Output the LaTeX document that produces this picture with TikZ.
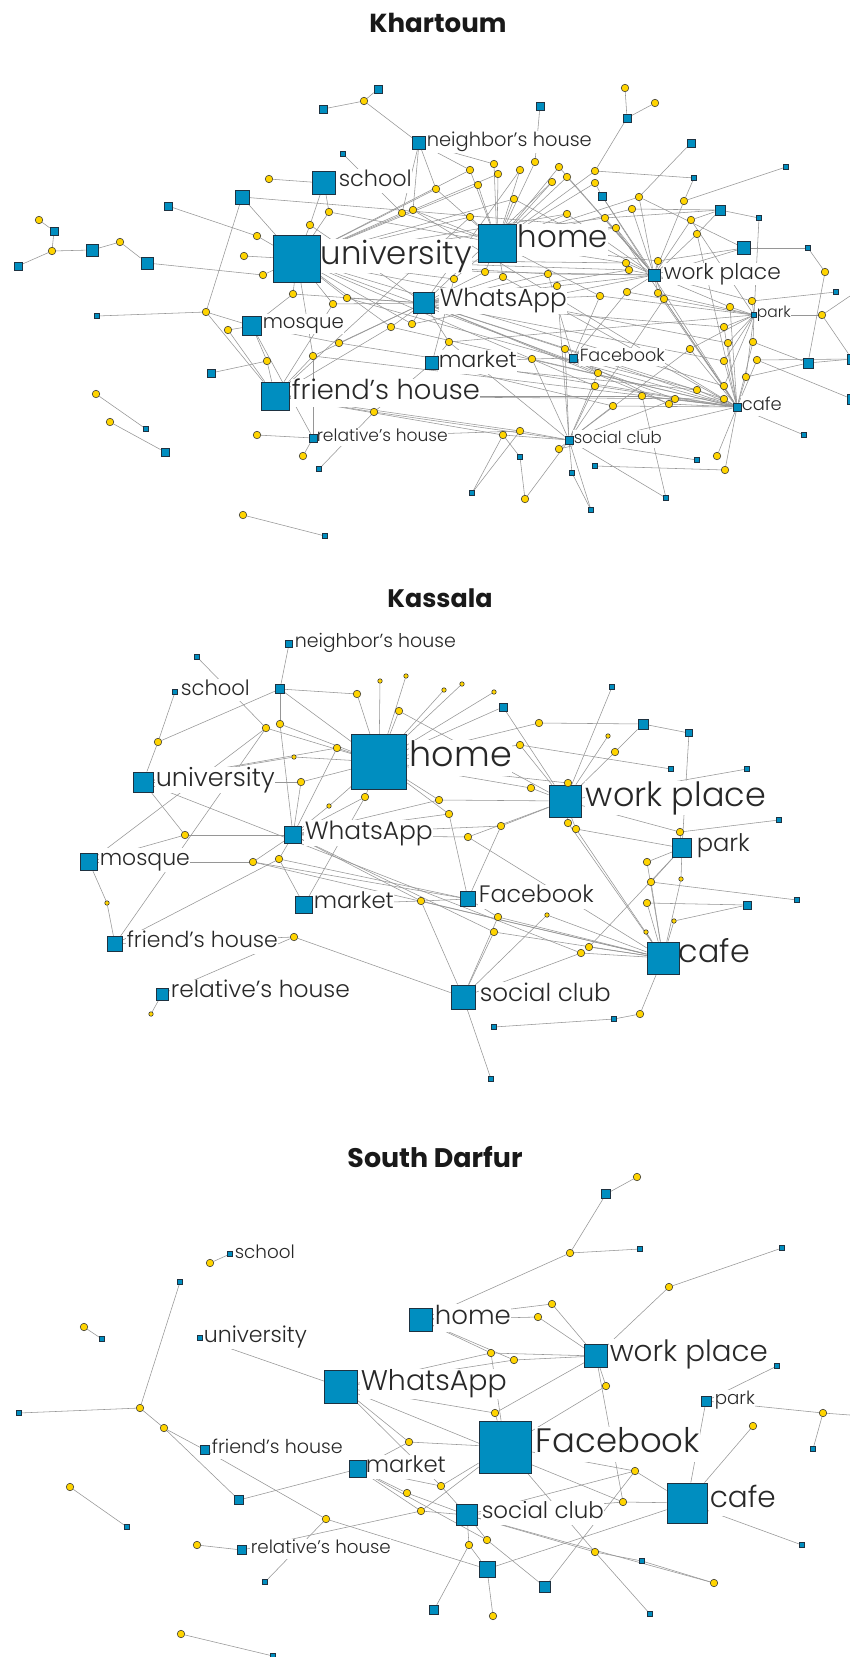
\documentclass[tikz,border=0pt]{standalone}
\usepackage{fontspec}
\setmainfont{Poppins}
\newfontfamily\labfont{Poppins Light}
\usepackage{graphicx}
\definecolor{plblue}{RGB}{0,142,192}
\definecolor{plborder}{RGB}{30,50,65}
\definecolor{pyel}{RGB}{255,212,0}
\definecolor{edgegray}{RGB}{150,150,150}
\definecolor{txtgray}{RGB}{40,40,40}
\pgfdeclarelayer{bglayer}
\pgfdeclarelayer{edgelayer}
\pgfdeclarelayer{lablayer}
\pgfsetlayers{bglayer,edgelayer,lablayer,main}
\tikzset{
 place/.style={rectangle, fill=plblue, draw=plborder, line width=0.8pt, inner sep=0pt},
 pers/.style={circle, fill=pyel, draw=black!80, line width=0.55pt, inner sep=0pt, minimum size=7.5pt},
 perss/.style={pers, minimum size=4.5pt},
 edge/.style={draw=edgegray, line width=0.55pt},
 lab/.style={fill=white, inner sep=0.6pt, text=txtgray, anchor=west, font=\labfont},
 ttl/.style={anchor=base, text=black!90, inner sep=0pt, font=\bfseries}
}
\newcommand{\mkplace}[3]{\node[place, minimum size=#3pt] (#1) at (#2) {};}
\newcommand{\mkpers}[2]{\node[pers] (#1) at (#2) {};}
\newcommand{\mkperss}[2]{\node[perss] (#1) at (#2) {};}
\newcommand{\mklabel}[4]{\node[lab] (#1) at (#2) {\resizebox{#3pt}{!}{#4\vphantom{hy}}};}
\begin{document}
\begin{tikzpicture}[x=1pt,y=-1pt]
\begin{pgfonlayer}{bglayer}
\fill[white] (0,0) rectangle (850,1657);
\end{pgfonlayer}
\useasboundingbox (0,0) rectangle (850,1657);

% ================= Titles =================
\node[ttl] (t1) at (438,32) {\resizebox{137pt}{!}{Khartoum}};
\node[ttl] (t2) at (440,607) {\resizebox{105pt}{!}{Kassala}};
\node[ttl] (t3) at (435,1167) {\resizebox{175pt}{!}{South Darfur}};

% ================= Khartoum =================
\mkplace{kU}{297,259}{47}
\mkplace{kH}{497,243}{38}
\mkplace{kSc}{324,183}{23}
\mkplace{kN}{419,143}{13}
\mkplace{kW}{424,303}{21}
\mkplace{kMo}{252,326}{19}
\mkplace{kFH}{275,396}{28}
\mkplace{kR}{313,438}{8}
\mkplace{kM}{432,363}{13}
\mkplace{kF}{573,358}{8}
\mkplace{kP}{654,275}{12}
\mkplace{kPk}{754,315}{4.5}
\mkplace{kC}{737,407}{8}
\mkplace{kS}{569,440}{8}
\mkplace{ks1}{323,109}{8}
\mkplace{ks2}{378,89}{8}
\mkplace{ks3}{343,154}{4.5}
\mkplace{ks4}{242,197}{14}
\mkplace{ks5}{168,206}{8}
\mkplace{ks6}{540,106}{8}
\mkplace{ks7}{627,118}{8}
\mkplace{ks8}{691,143}{8}
\mkplace{ks9}{694,178}{4.5}
\mkplace{ks10}{602,196}{8}
\mkplace{ks11}{786,167}{4.5}
\mkplace{ks12}{720,210}{10}
\mkplace{ks13}{744,248}{13}
\mkplace{ks14}{759,218}{4.5}
\mkplace{ks15}{808,248}{4.5}
\mkplace{ks16}{97,316}{4.5}
\mkplace{ks17}{211,373}{8}
\mkplace{ks18}{319,469}{4.5}
\mkplace{ks19}{146,429}{4.5}
\mkplace{ks20}{165,452}{8}
\mkplace{ks21}{325,536}{4.5}
\mkplace{ks22}{836,292}{4.5}
\mkplace{ks23}{808,363}{10}
\mkplace{ks24}{852,359}{10}
\mkplace{ks25}{852,399}{10}
\mkplace{ks26}{520,457}{4.5}
\mkplace{ks27}{572,473}{4.5}
\mkplace{ks28}{472,493}{4.5}
\mkplace{ks29}{591,510}{4.5}
\mkplace{ks30}{595,466}{4.5}
\mkplace{ks31}{697,460}{4.5}
\mkplace{ks32}{666,498}{4.5}
\mkplace{ks33}{804,435}{4.5}
\mkplace{kls1}{54,231}{8}
\mkplace{kls2}{18,266}{8}
\mkplace{kls3}{92,250}{12}
\mkplace{kls4}{147,263}{12}
\coordinate (kE1) at (850,296);
\mkpers{k1}{364,101}\mkpers{k2}{269,179}\mkpers{k3}{257,236}\mkpers{k4}{244,256}
\mkpers{k5}{263,275}\mkpers{k6}{329,212}\mkpers{k7}{310,225}\mkpers{k8}{402,213}
\mkpers{k9}{413,210}\mkpers{k10}{625,88}\mkpers{k11}{655,103}\mkpers{k12}{470,170}
\mkpers{k13}{494,164}\mkpers{k14}{498,174}\mkpers{k15}{520,170}\mkpers{k16}{535,162}
\mkpers{k17}{559,167}\mkpers{k18}{552,182}\mkpers{k19}{567,177}\mkpers{k20}{595,171}
\mkpers{k21}{595,183}\mkpers{k22}{478,185}\mkpers{k23}{514,199}\mkpers{k24}{470,217}
\mkpers{k25}{436,189}\mkpers{k26}{684,201}\mkpers{k27}{639,197}\mkpers{k28}{632,209}
\mkpers{k29}{605,218}\mkpers{k30}{616,228}\mkpers{k31}{567,214}\mkpers{k33}{691,220}
\mkpers{k34}{697,234}\mkpers{k35}{825,272}\mkpers{k36}{658,261}\mkpers{k37}{626,263}
\mkpers{k38}{629,270}\mkpers{k39}{485,272}\mkpers{k40}{503,277}\mkpers{k41}{454,279}
\mkpers{k42}{548,274}\mkpers{k43}{557,286}\mkpers{k44}{206,312}\mkpers{k45}{228,330}
\mkpers{k46}{293,294}\mkpers{k47}{333,304}\mkpers{k48}{347,298}\mkpers{k49}{391,327}
\mkpers{k50}{412,324}\mkpers{k51}{339,343}\mkpers{k52}{313,356}\mkpers{k53}{267,361}
\mkpers{k54}{374,412}\mkpers{k55}{257,435}\mkpers{k56}{303,456}\mkpers{k57}{96,394}
\mkpers{k58}{110,422}\mkpers{k59}{243,515}\mkpers{k60}{565,349}\mkpers{k61}{532,359}
\mkpers{k62}{449,342}\mkpers{k63}{600,296}\mkpers{k64}{627,292}\mkpers{k65}{658,293}
\mkpers{k66}{664,299}\mkpers{k67}{730,307}\mkpers{k68}{752,301}\mkpers{k69}{822,315}
\mkpers{k70}{724,327}\mkpers{k71}{728,343}\mkpers{k72}{753,342}\mkpers{k73}{724,361}
\mkpers{k74}{757,360}\mkpers{k75}{746,377}\mkpers{k76}{724,386}\mkpers{k77}{724,399}
\mkpers{k78}{690,349}\mkpers{k79}{697,390}\mkpers{k80}{675,399}\mkpers{k81}{669,404}
\mkpers{k82}{642,396}\mkpers{k83}{613,406}\mkpers{k84}{595,386}\mkpers{k85}{598,373}
\mkpers{k86}{503,435}\mkpers{k87}{520,431}\mkpers{k88}{559,449}\mkpers{k89}{525,499}
\mkpers{k90}{717,456}\mkpers{k91}{725,470}
\mkpers{kl1}{39,220}\mkpers{kl2}{52,251}\mkpers{kl3}{120,242}

\begin{pgfonlayer}{lablayer}
\mklabel{kUl}{320,256}{151}{university}
\mklabel{kHl}{517,240}{90}{home}
\mklabel{kScl}{338,181}{73}{school}
\mklabel{kNl}{426,142}{165}{neighbor’s house}
\mklabel{kWl}{439,301}{127}{WhatsApp}
\mklabel{kMol}{262,324}{81}{mosque}
\mklabel{kFHl}{291,393}{188}{friend’s house}
\mklabel{kRl}{316,437}{131}{relative’s house}
\mklabel{kMl}{438,362}{78}{market}
\mklabel{kFl}{579,357}{85}{Facebook}
\mklabel{kPl}{663,274}{117}{work place}
\mklabel{kPkl}{756,314}{34}{park}
\mklabel{kCl}{741,406}{40}{cafe}
\mklabel{kSl}{573,439}{88}{social club}
\end{pgfonlayer}

\begin{pgfonlayer}{edgelayer}
\foreach \a/\b in {k1/ks1,k1/ks2,k1/kN,ks3/k8,k2/kSc,ks4/kU,ks4/k44,ks4/k30,ks5/k3,
 k3/kU,k4/kU,k5/kU,k5/kls4,kl1/kls1,kls1/kl2,kl2/kls2,kl2/kls3,kls3/kl3,kl3/kls4,
 k6/kSc,k6/kU,k6/kH,k7/kSc,k7/kU,k7/kW,k8/kN,k8/kH,k8/kU,k9/kN,k9/kH,k9/kC,
 ks6/k16,k10/ks7,k11/ks7,ks7/k20,ks8/k27,
 k12/kH,k12/kN,k12/kU,k13/kH,k13/kN,k14/kH,k14/kU,k15/kH,k15/kW,k16/kH,
 k17/kH,k17/kP,k18/kH,k18/kW,k19/kH,k19/kP,k20/kH,k20/ks9,k21/kH,k21/ks10,
 k22/kH,k22/kU,k23/kH,k23/kU,k23/kP,k24/kH,k24/kU,k24/kFH,k25/kH,k25/kN,k25/kU,
 ks9/k26,ks11/k26,k26/kP,k27/kP,k27/ks13,k27/kH,ks10/kP,ks10/kC,
 k28/kP,k28/ks12,k28/kH,k29/kP,k29/kU,k29/ks12,k30/kP,k30/kH,k30/kC,
 k31/kH,k31/kP,k31/kU,k33/ks12,k33/kP,k33/kPk,k34/ks12,k34/kP,k34/kC,
 ks14/ks12,ks14/kPk,ks15/k35,ks15/ks13,k35/ks23,ks13/kP,
 k36/kP,k36/ks13,k36/kH,k37/kP,k37/kH,k37/kU,k38/kP,k38/kW,k38/kU,
 k39/kH,k39/kU,k39/kP,k39/kW,k40/kH,k40/kW,k40/kC,k41/kH,k41/kU,k41/kM,
 k42/kP,k42/kW,k42/kU,k42/kF,k43/kP,k43/kW,k43/kS,
 k44/ks16,k44/kFH,k44/kMo,k45/kFH,k45/kMo,k46/kU,k46/kMo,k46/kW,
 k47/kU,k47/kW,k47/kFH,k48/kU,k48/kW,k48/kC,k49/kW,k49/kU,k49/kC,k49/kFH,
 k50/kW,k50/kU,k50/kP,k51/kMo,k51/kW,k51/kC,k52/kFH,k52/kU,k52/kW,k52/kC,
 k53/ks17,k53/kFH,k53/kMo,k54/kFH,k54/kS,k54/ks18,k54/kM,
 k55/kR,k56/kR,kR/k52,kR/kMo,k57/ks19,k58/ks20,k59/ks21,
 k60/kF,k60/kW,k60/kC,k60/kS,k61/kF,k61/kM,k61/kC,k61/kS,
 k62/kM,k62/kW,k62/kPk,k62/kS,k63/kW,k63/kF,k63/kPk,k63/kH,
 k64/kP,k64/kF,k64/kPk,k65/kP,k65/kC,k65/kPk,k66/kP,k66/kC,k66/kS,
 k67/kP,k67/kPk,k67/kC,k68/kPk,k68/ks22,k68/kP,k69/kPk,k69/kE1,k69/ks24,
 k70/kPk,k70/kC,k70/kW,k71/kPk,k71/kC,k71/kU,k72/kPk,k72/kC,k72/ks23,
 k73/kC,k73/kW,k73/kPk,k74/kC,k74/ks24,k74/ks25,k75/kC,k75/kPk,k75/ks23,
 k76/kC,k76/kU,k76/kPk,k77/kC,k77/kFH,k77/kW,k78/kPk,k78/kC,k78/kS,
 k79/kC,k79/kM,k79/kF,k80/kC,k80/kU,k80/kS,k81/kC,k81/kW,k81/kF,
 k82/kC,k82/kFH,k82/ks32,k83/kC,k83/kS,k83/kM,k84/kS,k84/kC,k84/kU,
 k85/kF,k85/kS,k85/kW,k86/kS,k86/ks26,k86/kFH,k87/kS,k87/kR,k87/kFH,
 k88/kS,k88/kC,k89/ks26,k89/kS,k90/kC,k91/ks30,k91/kC,
 ks27/kS,ks27/ks29,ks28/k86,ks28/k87,ks29/kS,ks31/kS,ks32/kS,ks33/kC,ks23/ks24}
 \draw[edge] (\a) -- (\b);
\end{pgfonlayer}

% ================= Kassala =================
\mkplace{aH}{379,762}{55}
\mkplace{aP}{565,801}{32}
\mkplace{aPk}{682,848}{19}
\mkplace{aC}{663,958}{32}
\mkplace{aS}{463,997}{24}
\mkplace{aF}{468,899}{15}
\mkplace{aM}{304,905}{17}
\mkplace{aW}{293,835}{17}
\mkplace{aU}{143,782}{20}
\mkplace{aMo}{89,862}{17}
\mkplace{aFH}{115,944}{15}
\mkplace{aR}{162,994}{12}
\mkplace{aSc}{175,692}{4.5}
\mkplace{aN}{289,644}{7}
\mkplace{as1}{197,657}{4.5}
\mkplace{as2}{280,689}{9}
\mkplace{as3}{503,707}{8}
\mkplace{as4}{612,687}{4.5}
\mkplace{as5}{643,724}{10}
\mkplace{as6}{689,733}{7}
\mkplace{as7}{671,769}{4.5}
\mkplace{as8}{747,769}{4.5}
\mkplace{as9}{779,820}{4.5}
\mkplace{as10}{747,905}{8}
\mkplace{as11}{797,900}{4.5}
\mkplace{as12}{614,1019}{4.5}
\mkplace{as13}{494,1027}{4.5}
\mkplace{as14}{491,1079}{4.5}
\mkpers{a1}{357,694}\mkperss{a2}{380,681}\mkperss{a3}{406,676}\mkpers{a4}{399,711}
\mkpers{a5}{158,742}\mkpers{a6}{266,728}\mkpers{a7}{280,724}\mkpers{a8}{337,748}
\mkperss{a9}{294,757}\mkpers{a10}{301,782}\mkpers{a11}{365,797}\mkperss{a12}{329,806}
\mkpers{a13}{185,835}\mkperss{a14}{444,690}\mkperss{a15}{462,684}\mkperss{a16}{494,692}
\mkpers{a17}{539,723}\mkpers{a18}{520,745}\mkperss{a19}{608,736}\mkpers{a20}{615,752}
\mkpers{a21}{568,783}\mkpers{a22}{531,788}\mkpers{a23}{439,800}\mkpers{a24}{449,814}
\mkpers{a25}{501,826}\mkpers{a26}{468,837}\mkpers{a27}{568,823}\mkpers{a28}{576,829}
\mkpers{a29}{680,832}\mkpers{a30}{253,862}\mkpers{a31}{279,859}\mkpers{a32}{421,901}
\mkperss{a33}{107,903}\mkpers{a34}{294,937}\mkpers{a35}{498,917}\mkpers{a36}{494,932}
\mkperss{a37}{547,915}\mkpers{a38}{581,953}\mkpers{a39}{589,947}\mkpers{a40}{647,862}
\mkpers{a41}{651,882}\mkpers{a42}{647,903}\mkperss{a43}{681,879}\mkperss{a44}{674,921}
\mkperss{a45}{646,932}\mkpers{a46}{640,1014}\mkperss{a47}{151,1014}

\begin{pgfonlayer}{lablayer}
\mklabel{aHl}{409,758}{102}{home}
\mklabel{aPl}{585,798}{180}{work place}
\mklabel{aPkl}{696,846}{53}{park}
\mklabel{aCl}{678,955}{71}{cafe}
\mklabel{aSl}{479,995}{131}{social club}
\mklabel{aFl}{478,897}{115}{Facebook}
\mklabel{aMl}{313,903}{80}{market}
\mklabel{aWl}{304,833}{128}{WhatsApp}
\mklabel{aUl}{155,780}{119}{university}
\mklabel{aMol}{99,860}{90}{mosque}
\mklabel{aFHl}{126,942}{151}{friend’s house}
\mklabel{aRl}{170,992}{179}{relative’s house}
\mklabel{aScl}{180,690}{69}{school}
\mklabel{aNl}{294,643}{161}{neighbor’s house}
\end{pgfonlayer}

\begin{pgfonlayer}{edgelayer}
\foreach \a/\b in {as1/a6,aN/as2,as2/a7,as2/a1,as2/aH,as2/a5,aSc/a5,a5/aU,
 a1/aH,a2/aH,a3/aH,a4/aH,a4/aP,a6/aH,a6/aFH,a6/aMo,a7/aH,a7/aW,
 a8/aH,a8/aU,a8/aW,a9/aH,a9/aU,a10/aH,a10/aW,a10/aU,a11/aH,a11/aW,a11/aM,
 a12/aH,a12/aW,a13/aW,a13/aU,a13/aMo,a14/aH,a15/aH,a16/aH,
 as3/aP,as3/aH,as4/aP,a17/as5,a17/aH,as5/as6,as5/a20,as6/aPk,
 a18/aH,a18/aP,a18/as7,a19/aP,a20/aP,as8/aP,as9/a29,
 a21/aP,a21/aH,a22/aP,a22/aH,a23/aH,a23/aP,a23/aW,a24/aH,a24/aF,a24/aW,
 a25/aP,a25/aW,a25/aF,a26/aW,a26/aP,a26/aC,a27/aP,a27/aC,a28/aP,a28/aC,a28/aPk,
 a29/aPk,a29/aP,a30/aMo,a30/aW,a30/aC,a30/aF,a31/aW,a31/aM,a31/aF,
 a32/aF,a32/aS,a32/aC,a32/aW,a32/aM,a33/aFH,a33/aMo,a34/aFH,a34/aS,
 a35/aS,a35/aC,a35/aF,a36/aS,a36/aC,a36/aW,a37/aS,a37/aC,a38/aC,a38/aS,a38/aU,
 a39/aC,a39/aPk,a40/aPk,a40/aC,a41/aPk,a41/aC,a41/as11,a42/aC,a42/as10,
 a43/aPk,a43/aC,a44/aC,a44/as10,a45/aC,a46/aC,a46/as12,as12/as13,as14/aS,
 a47/aR,aR/a34,aFH/a31}
 \draw[edge] (\a) -- (\b);
\end{pgfonlayer}

% ================= South Darfur =================
\mkplace{dF}{505,1447}{52}
\mkplace{dC}{687,1503}{40}
\mkplace{dW}{341,1387}{33}
\mkplace{dP}{596,1356}{23}
\mkplace{dH}{421,1320}{23}
\mkplace{dPk}{706,1401}{10}
\mkplace{dS}{467,1515}{21}
\mkplace{dM}{358,1469}{17}
\mkplace{dFH}{205,1450}{9}
\mkplace{dR}{242,1550}{9}
\mkplace{dU}{200,1338}{4.5}
\mkplace{dSc}{230,1254}{4.5}
\mkplace{ds1}{606,1194}{9}
\mkplace{ds2}{640,1249}{4.5}
\mkplace{ds3}{782,1248}{4.5}
\mkplace{ds4}{777,1366}{4.5}
\mkplace{ds5}{813,1449}{4.5}
\mkplace{ds6}{180,1282}{4.5}
\mkplace{ds7}{19,1413}{4.5}
\mkplace{ds8}{239,1500}{9}
\mkplace{ds9}{102,1339}{4.5}
\mkplace{ds11}{127,1527}{4.5}
\mkplace{ds12}{265,1582}{4.5}
\mkplace{ds13}{273,1656}{4.5}
\mkplace{ds14}{487,1569}{16}
\mkplace{ds15}{434,1610}{9}
\mkplace{ds16}{545,1587}{11}
\mkplace{ds17}{642,1561}{4.5}
\mkplace{ds18}{650,1614}{4.5}
\mkplace{ds19}{802,1545}{4.5}
\coordinate (dE1) at (850,1415);
\mkpers{d1}{637,1177}\mkpers{d2}{570,1253}\mkpers{d3}{669,1287}\mkpers{d4}{552,1304}
\mkpers{d5}{538,1317}\mkpers{d6}{491,1353}\mkpers{d7}{514,1360}\mkpers{d8}{606,1386}
\mkpers{d9}{823,1413}\mkpers{d10}{753,1426}\mkpers{d11}{140,1408}\mkpers{d12}{164,1428}
\mkpers{d13}{210,1263}\mkpers{d14}{84,1327}\mkpers{d15}{409,1442}\mkpers{d16}{407,1493}
\mkpers{d17}{421,1511}\mkpers{d18}{326,1519}\mkpers{d19}{70,1487}\mkpers{d20}{197,1545}
\mkpers{d21}{181,1634}\mkpers{d22}{495,1413}\mkpers{d23}{441,1486}\mkpers{d24}{635,1471}
\mkpers{d25}{623,1502}\mkpers{d26}{469,1545}\mkpers{d27}{487,1540}\mkpers{d28}{493,1616}
\mkpers{d29}{595,1552}\mkpers{d30}{714,1583}

\begin{pgfonlayer}{lablayer}
\mklabel{dFl}{535,1444}{164}{Facebook}
\mklabel{dCl}{709,1500}{66}{cafe}
\mklabel{dWl}{360,1384}{146}{WhatsApp}
\mklabel{dPl}{609,1354}{158}{work place}
\mklabel{dHl}{434,1318}{76}{home}
\mklabel{dPkl}{714,1400}{40}{park}
\mklabel{dSl}{481,1513}{122}{social club}
\mklabel{dMl}{365,1467}{80}{market}
\mklabel{dFHl}{211,1449}{131}{friend’s house}
\mklabel{dRl}{250,1549}{140}{relative’s house}
\mklabel{dUl}{203,1337}{103}{university}
\mklabel{dScl}{234,1254}{60}{school}
\end{pgfonlayer}

\begin{pgfonlayer}{edgelayer}
\foreach \a/\b in {d1/ds1,ds1/d2,d2/ds2,d2/dH,d3/ds3,d3/dP,d4/dH,d4/dP,d5/dH,d5/dP,
 d6/dH,d6/dW,d6/dF,d6/dP,d7/dH,d7/dW,d7/dP,d8/dP,d8/dF,ds4/dPk,dPk/dC,dPk/d9,
 d9/ds5,d9/dE1,d10/dC,ds6/d11,d11/ds7,d11/d12,d12/dFH,d12/ds8,ds8/dM,dSc/d13,dU/dW,
 d14/ds9,d15/dW,d15/dM,d15/dF,d16/dM,d16/dS,d17/dM,d17/dS,d17/dF,d17/dR,
 d18/dFH,d18/ds12,d18/ds14,d19/ds11,d20/dR,d21/ds13,d22/dF,d22/dW,d22/dP,
 d23/dF,d23/dS,d23/dM,d23/dW,d24/dC,d24/dF,d24/dS,d25/dC,d25/dS,d25/dP,d25/dW,
 d26/dS,d26/ds14,d26/ds15,d27/dS,d27/ds16,d27/dM,ds14/d28,ds14/dC,ds16/d24,
 d29/ds17,d29/ds18,d29/dS,d29/dF,d30/dS,d30/ds17,ds19/dC}
 \draw[edge] (\a) -- (\b);
\end{pgfonlayer}
\end{tikzpicture}
\end{document}
